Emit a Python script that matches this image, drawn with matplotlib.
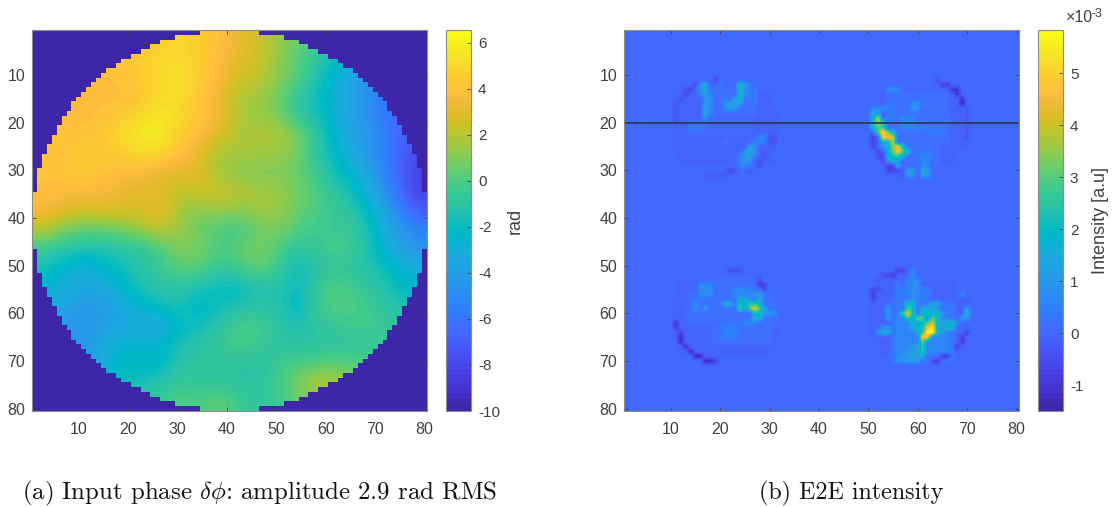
import numpy as np
import matplotlib
matplotlib.use("Agg")
import matplotlib.pyplot as plt
from matplotlib.colors import ListedColormap, Normalize

W, H = 1112, 507
plt.rcParams['font.family'] = ['Liberation Sans', 'DejaVu Sans']
plt.rcParams['mathtext.fontset'] = 'custom'
plt.rcParams['mathtext.rm'] = 'Liberation Sans'
plt.rcParams['mathtext.default'] = 'it'
plt.rcParams['axes.unicode_minus'] = False

PARULA = [
(0.2422,0.1504,0.6603),(0.2504,0.1650,0.7076),(0.2578,0.1818,0.7511),(0.2647,0.1978,0.7952),
(0.2706,0.2147,0.8364),(0.2751,0.2342,0.8710),(0.2783,0.2559,0.8991),(0.2803,0.2782,0.9221),
(0.2813,0.3006,0.9414),(0.2810,0.3228,0.9579),(0.2795,0.3447,0.9717),(0.2760,0.3667,0.9829),
(0.2699,0.3892,0.9906),(0.2602,0.4123,0.9952),(0.2440,0.4358,0.9988),(0.2206,0.4603,0.9973),
(0.1963,0.4847,0.9892),(0.1834,0.5074,0.9798),(0.1786,0.5289,0.9682),(0.1764,0.5499,0.9520),
(0.1687,0.5703,0.9359),(0.1540,0.5902,0.9218),(0.1460,0.6091,0.9079),(0.1380,0.6276,0.8973),
(0.1248,0.6459,0.8883),(0.1113,0.6635,0.8763),(0.0952,0.6798,0.8598),(0.0689,0.6948,0.8394),
(0.0297,0.7082,0.8163),(0.0036,0.7203,0.7917),(0.0067,0.7312,0.7660),(0.0433,0.7411,0.7394),
(0.0964,0.7500,0.7120),(0.1408,0.7584,0.6842),(0.1717,0.7670,0.6554),(0.1938,0.7758,0.6251),
(0.2161,0.7843,0.5923),(0.2470,0.7918,0.5567),(0.2906,0.7973,0.5188),(0.3406,0.8008,0.4789),
(0.3909,0.8029,0.4354),(0.4456,0.8024,0.3909),(0.5044,0.7993,0.3480),(0.5616,0.7942,0.3045),
(0.6174,0.7876,0.2612),(0.6720,0.7793,0.2227),(0.7242,0.7698,0.1910),(0.7738,0.7598,0.1646),
(0.8203,0.7498,0.1535),(0.8634,0.7406,0.1596),(0.9035,0.7330,0.1774),(0.9393,0.7288,0.2100),
(0.9728,0.7298,0.2394),(0.9956,0.7434,0.2371),(0.9970,0.7659,0.2199),(0.9952,0.7861,0.1999),
(0.9892,0.8135,0.1884),(0.9786,0.8386,0.1766),(0.9676,0.8639,0.1643),(0.9610,0.8890,0.1537),
(0.9597,0.9135,0.1423),(0.9628,0.9373,0.1265),(0.9691,0.9606,0.1064),(0.9769,0.9839,0.0805)]

# Left panel: phase (rad) read on a 4-pixel grid
PHASE = [
[4,4,4,4,4,4,4.5,5,4.5,4,3.2,2.5,1.5,0.5,0,-1,-2,-3,-4,-5],
[4,4,4,4,4,4.5,5,5,4.5,3.8,3,2.5,1.2,0.3,-1,-2,-3,-5,-6,-6],
[4,4,4,4,4,4.5,5,5.5,4.5,3.8,2.5,2.2,1.2,0.2,-1.5,-3,-4,-5.5,-6,-6],
[4,4,4,3.8,3.8,4.2,5,5.2,4.3,3.2,1.8,1.5,0.7,-0.8,-2,-3,-4,-5.5,-6,-6],
[4,4,3.8,4,4.5,5,5.8,5,4.3,3.5,1.7,1.5,0.8,-0.8,-1.8,-3,-4,-5.5,-6.5,-6.5],
[4,4,4,4.2,5,5.9,6,4.5,4,2.7,1.8,1.8,2,1,-1,-3,-3.8,-5,-6.5,-7.5],
[4,4.2,4.5,4.5,4.4,5,5,4,3,1.5,1.8,1.5,1.5,0.8,-1,-2.5,-3.5,-5,-6.5,-8],
[4,4,4.5,4,3.8,3.8,3,3,3,1.5,1,0.8,1,0.5,-0.5,-2,-3,-4.5,-6.5,-8.5],
[4,3.8,3.8,3.8,3,2.8,3,2,2.5,2.5,2.2,1.8,1.5,0.8,0,-1,-2,-4,-6,-8.5],
[3.8,3,2.5,2.8,3,2.6,3.5,1.5,1,1.5,1,1.5,1.5,0.5,0,-0.5,-1.5,-3,-5,-7],
[2,1,0.3,0.3,0.5,1.5,2,1.5,0.5,0,-0.5,0.7,1,0,-0.5,-0.5,-0.5,-2.5,-4,-5.5],
[-0.5,-1,-1.5,-1.5,-1,-1,0,1,1,0,0.5,1,0,-1,-0.5,0,-0.5,-2.5,-3.5,-4.5],
[-1.5,-2.5,-3.2,-2.5,-2,-1,-0.5,0.3,0.3,-0.8,-0.3,0.8,-0.5,-2.2,-1,-0.8,-1,-1.5,-2.5,-3],
[-2.5,-3,-3.5,-3.5,-2.5,-1.5,-1,-1,-1.5,-2,-2.2,-1.5,-1.2,-2,-0.5,0.3,-0.5,-1,-2,-2.5],
[-3,-3.5,-4.2,-4.2,-3.5,-2.5,-1.8,-1.5,-2.5,-1.8,-1.5,-1,-1.2,-2.5,-0.3,0.2,0,-0.7,-1.2,-1.5],
[-4,-4,-4.5,-4,-3.5,-3.5,-4,-2,-2,-1,0,0,-1,-1.5,-0.8,-0.5,-0.3,-0.2,-0.8,-1],
[-4.5,-4.5,-4.5,-3.5,-2.5,-2.5,-2.5,-1.5,-1,-0.5,0,-0.5,-1,-1,-1,-1,-0.8,-0.8,-1,-1],
[-4.5,-4.5,-4.5,-3.5,-2,-2.5,-2.5,-1,-0.8,-1,-1,-1,-0.5,0,0,0.5,0,0,0,0],
[-3,-3,-3,-2.5,-2,-1.5,-1.2,-0.5,-0.8,-0.8,-1,-1,-0.2,1,2.2,1.8,1,1,1,1],
[-2,-2,-2,-2,-1,-1,-0.5,0.3,-0.3,0.8,-0.5,-0.8,-0.5,0.5,1,1,1,1,1,1],
]
# half-width of the pupil in pixels, rows 1..40 (mirrored below)
PUPIL_HALF = [6,11,14,16,18,20,22,23,25,26,27,28,29,30,31,32,32,33,34,34,
              35,35,36,36,37,37,38,38,38,39,39,39,39,39,40,40,40,40,40,40]

# Right panel: intensity (x1e-3); (row, col, value)
LOBE_TL = [(12,17,1.8),(13,17,1.5),(14,17,1.0),(15,17,1.0),(16,17,1.0),(17,17,1.2),(18,17,1.5),(19,17,1.0),
(14,18,.7),(15,18,.7),(16,18,.7),(17,18,.7),(18,18,.7),(12,16,.8),(13,16,.8),(14,16,.8),
(12,24,2.2),(13,24,1.5),(14,24,1.8),(15,24,2.0),(16,24,1.2),(12,25,1),(13,25,1),(14,25,.8),
(15,23,1.2),(16,23,1.2),(17,23,1.0),(16,22,1.2),(17,22,1.0),(15,21,.6),(16,21,.8),(17,21,.7),
(12,20,.3),(13,20,.3),(14,20,.3),(12,26,.5),(13,26,.5),(14,26,.5),(15,26,.5),(13,27,.4),(14,27,.4),(15,27,.4),
(12,15,-.5),(13,14,-.7),(13,13,-.3),(14,13,-.6),(15,12,-.4),(16,11,-.3),(17,11,-.3),(18,11,-.3),(19,11,-.3),(20,11,-.3),(11,19,-.6),
(21,14,.4),(21,15,.4),(21,16,.4),(26,25,.9),(27,25,1.0),(28,25,.9),(25,26,1.1),(26,26,1.2),(27,26,1.4),(28,26,.9),(29,26,.4),
(24,27,.6),(25,27,.8),(26,27,.9),(27,27,.5),(23,28,.6),(23,29,.7),(24,28,.6),(24,29,.5),(27,24,.6),(28,24,.6),(29,24,.6),(29,25,.7),(24,21,.3),
(23,30,-.4),(24,30,-.4),(23,31,-.4),(24,31,-.4),(26,29,-.3),(27,29,-.3),(28,28,-.4),(29,28,-.4),(30,22,-.7),(30,23,-.3),(30,26,-.3),
(31,17,-.2),(31,18,-.2),(31,19,-.2),(31,20,-.2),(31,21,-.2)]
LOBE_TR = [(19,52,3.8),(20,52,3.8),(18,51,1.5),(19,51,1.8),(20,51,2),(21,51,2.2),(21,52,2.8),(18,52,.8),(20,53,2.5),(21,53,2.7),(22,52,3),
(22,53,5.2),(23,53,5.0),(22,54,3.3),(23,54,4.6),(24,54,2.0),(22,55,1.8),(23,55,4.2),(24,55,3.8),(25,55,3.5),(26,55,3.0),
(25,56,4.8),(26,56,4.8),(27,55,2.2),(27,56,2.5),(25,57,2.0),(26,57,2.7),(27,57,1.5),(26,58,2.0),(24,53,1.8),(25,53,.8),
(25,54,1.5),(26,54,1.5),(27,54,1.7),(28,54,1),(28,55,1.6),(29,55,1),(28,56,1.4),(29,56,1.3),
(30,58,1),(31,58,1),(30,59,1),(31,59,1),(30,61,1.2),(31,61,1.2),(30,62,1.2),(31,62,1.2),(27,61,.6),(28,61,.6),(29,61,.6),(27,62,.6),(28,62,.6),(29,62,.6),
(13,54,.8),(13,55,.8),(13,56,.8),(17,51,.8),(17,52,.8),(17,53,.8),(16,59,.9),(17,59,.9),(16,60,.9),(17,60,.9),
(16,54,.4),(17,54,.4),(18,54,.4),(19,54,.4),(16,55,.4),(17,55,.4),(18,55,.4),(19,55,.4),(19,57,.6),(20,57,.6),(21,57,.6),(19,58,.6),(20,58,.6),(21,58,.6),(19,59,.6),(20,59,.6),(21,59,.6),
(21,60,.5),(21,61,.5),(21,62,.5),(22,63,.5),(22,64,.5),(22,65,.5),
(11,64,-.4),(12,65,-.7),(12,66,-.9),(13,67,-1.0),(13,68,-1.0),(14,68,-1.1),(15,69,-1.2),(16,69,-1.2),(17,70,-.3),(18,70,-.3),(19,70,-.3),(21,70,-.3),(22,70,-.3),(23,70,-.3),
(23,51,-.7),(24,51,-.7),(25,51,-.7),(26,52,-.5),(27,52,-.5),(27,53,-.6),(28,53,-.6),(29,54,-.7),(29,55,-.7),(30,54,-.7),(30,55,-.7),(30,56,-.7),(31,57,-.3)]
LOBE_BL = [(58,27,2.5),(59,27,4.3),(60,27,2.0),(61,27,1.5),(58,26,2.5),(59,26,3.0),(57,26,1.2),(58,28,2.0),(59,28,2.7),(60,28,2),(61,28,1.8),(57,28,1.5),
(58,24,2.3),(59,24,2.6),(57,24,1.5),(58,25,1.8),(59,25,1.2),(57,25,1.2),(59,29,1.2),(60,29,1),(60,30,1),(60,31,.8),
(58,21,1.5),(58,22,1.5),(58,15,.9),(59,15,.9),(59,17,1.1),(54,16,.7),(55,16,.7),(56,16,.7),(54,17,.7),(55,17,.7),(56,17,.7),(54,18,.7),(55,18,.7),(56,18,.7),
(55,23,.6),(56,23,.6),(55,24,.6),(56,24,.6),(55,25,.6),(56,25,.6),(55,26,.6),(56,26,.6),(62,25,.7),(62,26,.7),(62,27,.7),
(63,21,.5),(64,21,.5),(65,21,.5),(63,22,.5),(64,22,.5),(65,22,.5),(63,23,.5),(64,23,.5),(65,23,.5),(56,28,1.2),(56,27,1),
(62,11,-1),(63,11,-.9),(64,12,-.8),(65,12,-1.2),(66,12,-1.1),(67,13,-1.2),(68,14,-1.3),(69,15,-1.3),(69,16,-1.3),(70,17,-1.2),(70,18,-1.2),(70,19,-.8),
(51,22,-.5),(51,23,-.5),(51,24,-.5),(53,28,-.6),(54,28,-.8),(54,29,-.8),(55,29,-.6)]
LOBE_BR = [(63,63,5.5),(64,62,5.8),(64,63,5.8),(63,62,4.5),(62,63,4),(61,63,3),(65,61,4.8),(65,62,4.6),(66,61,3),(67,61,2.5),(68,61,2.5),(69,61,1.5),(62,62,3),
(60,58,4.5),(59,58,2.7),(61,58,2.8),(60,57,2.5),(58,59,2),(59,59,2),(60,59,2),(58,58,2),(61,60,3),(61,61,3),(62,61,1.8),(62,60,1.8),(61,59,1.5),(62,59,1.5),(63,59,1.5),
(63,60,2),(64,60,1.5),(63,61,2),(64,61,2.5),(61,64,2),(62,64,1.7),(63,64,1.5),(64,64,1.5),(62,65,1.2),(63,65,1.2),(64,65,1.2),(62,66,1.8),(63,66,1.8),(62,67,1.8),(63,67,1.8),
(60,70,2.2),(59,70,1),(61,70,1),(61,69,1),(62,68,1),(56,69,.8),(58,63,1.3),(59,63,1.3),(58,64,1.3),(59,64,1.3),(59,61,1.5),(60,61,1.5),(59,62,1.5),(60,62,2),(60,63,1.8),(60,64,1.5),(60,65,1.2),
(63,53,1.0),(64,53,1.4),(63,54,1.0),(64,54,1.4),(64,52,1),(59,54,1),(60,54,1),(61,54,1),
(67,59,1.2),(68,59,1.2),(69,59,1.2),(70,59,1.2),(67,60,1.2),(68,60,1.2),(69,60,1.2),(70,60,1.2),(68,58,1),(69,58,1),(70,58,1),(69,56,.8),(70,56,.8),(69,57,.8),(70,57,.8),
(52,59,.7),(53,59,.7),(54,59,.7),(55,59,.7),(56,59,.7),(57,59,.7),(53,60,.7),(54,60,.7),(55,60,.7),(56,60,.7),(57,60,.7),(53,58,.6),(54,58,.6),(55,58,.6),(56,58,.6),(51,59,.8),(54,56,.5),
(51,57,-.7),(51,56,-.7),(52,55,-1.0),(52,54,-.5),(52,53,-.5),(53,52,-.3),(55,52,-.7),(55,51,-.6),(56,51,-.8),(57,51,-.7),
(64,70,-.7),(65,69,-.8),(66,69,-.9),(67,68,-1),(69,66,-.8),(69,65,-.8),(70,64,-.8),(70,63,-.5)]
# soft lobe interiors, painted first: (row0, row1, col0, col1, value)
LOBE_FAINT = [(14,28,12,30,-.07),(14,28,53,67,-.07),(54,68,12,30,-.07),(54,68,53,67,-.07),
              (17,25,11,31,-.05),(17,25,51,70,-.05),(57,65,11,31,-.05),(57,65,51,70,-.05),
              (14,24,54,66,.15),(19,28,58,64,.2),
              (53,66,19,30,.2),(56,62,14,31,.2),
              (58,70,55,67,.25),(61,68,56,66,.6),(55,60,56,62,.4),
              (13,18,18,27,.15),(20,22,14,26,.1)]
MARKED_ROW = 20
X_TICKS = [10,20,30,40,50,60,70,80]
Y_TICKS = [10,20,30,40,50,60,70,80]
LEFT_CBAR_TICKS = [-10,-8,-6,-4,-2,0,2,4,6]
RIGHT_CBAR_TICKS = [-1,0,1,2,3,4,5]

cmap = ListedColormap(PARULA, name='parula')
GREY = '#404040'
EDGE = '#8c8c8c'

fig = plt.figure(figsize=(W/100, H/100), dpi=100)
def axbox(x0, x1, y0=30, y1=411):
    return fig.add_axes([x0/W, 1-y1/H, (x1-x0)/W, (y1-y0)/H])

def style_heat(ax):
    ax.set_xticks(X_TICKS); ax.set_yticks(Y_TICKS)
    ax.set_xlim(0.5, 80.5); ax.set_ylim(80.5, 0.5)
    ax.set_aspect('auto')
    ax.tick_params(direction='in', length=3, width=0.6, color=GREY, labelcolor=GREY,
                   labelsize=11.5, top=True, right=True)
    ax.tick_params(axis='x', pad=8)
    ax.tick_params(axis='y', pad=5)
    for s in ax.spines.values():
        s.set_color(EDGE); s.set_linewidth(0.8)

def cbar(im, cax, ticks, label, labelpad):
    cb = fig.colorbar(im, cax=cax, ticks=ticks)
    cb.outline.set_edgecolor(EDGE); cb.outline.set_linewidth(0.8)
    cax.tick_params(direction='in', length=3, width=0.6, color=GREY, labelcolor=GREY, labelsize=11, pad=5)
    cb.set_label(label, fontsize=13, color=GREY, labelpad=labelpad)
    return cb

# Left
axL = axbox(32, 427)
normL = Normalize(-10, 6.56)
imL = axL.imshow(np.array(PHASE, float), cmap=cmap, norm=normL, extent=(0.5,80.5,80.5,0.5),
                 interpolation='bicubic', aspect='auto')
half = PUPIL_HALF + PUPIL_HALF[::-1]
mask = np.zeros((80,80,4))
mask[..., :3] = PARULA[0]
for r, w in enumerate(half):
    mask[r, :40-w, 3] = 1
    mask[r, 40+w:, 3] = 1
axL.imshow(mask, extent=(0.5,80.5,80.5,0.5), interpolation='nearest', aspect='auto')
style_heat(axL)
cbar(imL, axbox(446, 471), LEFT_CBAR_TICKS, 'rad', 5)

# Right
axR = axbox(624, 1019)
E = np.zeros((80,80))
for r0, r1, c0, c1, v in LOBE_FAINT:
    E[r0-1:r1, c0-1:c1] = v
for lobe in (LOBE_TL, LOBE_TR, LOBE_BL, LOBE_BR):
    for r, c, v in lobe:
        E[r-1, c-1] = v
normR = Normalize(-1.5, 5.83)
imR = axR.imshow(E, cmap=cmap, norm=normR, extent=(0.5,80.5,80.5,0.5), interpolation='bilinear', aspect='auto')
style_heat(axR)
axR.axhline(MARKED_ROW, color='#2e3a55', lw=1.3)
caxR = axbox(1038, 1063)
cbar(imR, caxR, RIGHT_CBAR_TICKS, 'Intensity [a.u]', 6)
fig.text(1066/W, 1-22/H, '×10', fontsize=11.5, color=GREY, ha='left', va='baseline')
fig.text(1091/W, 1-17/H, '-3', fontsize=9, color=GREY, ha='left', va='baseline')

# Captions
fig.text(22/W, 1-499/H, r'(a) Input phase $\delta\phi$: amplitude 2.9 rad RMS', family='cmr10',
         fontsize=17.9, color='#111111', ha='left', va='baseline', math_fontfamily='cm')
fig.text(759/W, 1-499/H, '(b) E2E intensity', family='cmr10', fontsize=17.3, color='#111111',
         ha='left', va='baseline')

fig.savefig('out.png', dpi=100)
